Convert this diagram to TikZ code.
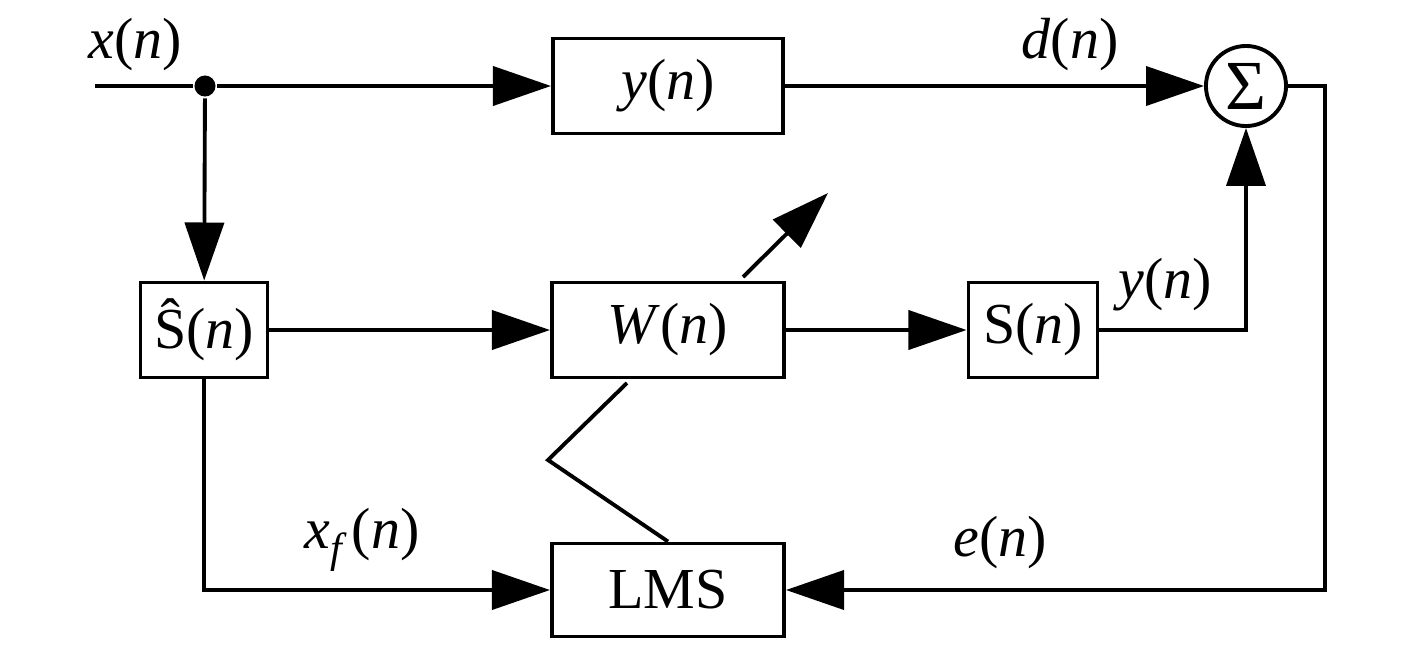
\documentclass[tikz,border=0pt]{standalone}
\usepackage{fontspec}
\setmainfont{Liberation Serif}
\usepackage{tikz}
\usetikzlibrary{arrows.meta}

\tikzset{
  blk/.style={draw,line width=1.1pt,minimum height=0.95cm,inner sep=0pt,
              font=\fontsize{16.5}{19}\selectfont},
  arr/.style={-{Triangle[length=0.58cm,width=0.39cm]}},
  lbl/.style={font=\fontsize{16.5}{19}\selectfont}
}

\begin{document}
\begin{tikzpicture}[x=0.01cm,y=-0.01cm,line width=1.1pt]

\useasboundingbox (0,0) rectangle (1417,645);

% Blocks
\node[blk,minimum width=2.3cm] (yblk) at (668,86) {\textit{y}(\textit{n})};
\node[blk,minimum width=1.27cm] (shat) at (204,330) {\^{S}(\textit{n})};
\node[blk,minimum width=2.32cm] (W) at (668,330) {\textit{W}(\textit{n})};
\node[blk,minimum width=1.29cm] (S) at (1033,330) {S(\textit{n})};
\node[blk,minimum width=2.32cm,minimum height=0.93cm] (LMS) at (668,590) {LMS};
\node[draw,circle,line width=1.1pt,minimum size=0.8cm,inner sep=0pt,
      font=\fontsize{20}{22}\selectfont] (sum) at (1246,86) {Σ};
\node[circle,fill,inner sep=0pt,minimum size=0.21cm] (dot) at (205,86) {};

% Helper points
\coordinate (in) at (95,86);
\coordinate (fb) at (1325,590);
\coordinate (kink) at (548,460);
\coordinate (wtap) at (627,383);
\coordinate (adapt0) at (743,277);
\coordinate (adapt1) at (828,193);

% Signal paths
\draw (in) -- (dot);
\draw[arr] (dot) -- (yblk);
\draw[arr] (yblk) -- (sum);
\draw[arr] (dot) -- (shat);
\draw[arr] (shat) -- (W);
\draw[arr] (W) -- (S);
\draw[arr] (S.east) -| (sum.south);
\draw[arr] (shat.south) |- (LMS.west);
\draw[arr] (sum.east) -| (fb) -- (LMS.east);

% Adaptation
\draw (LMS.north) -- (kink) -- (wtap);
\draw[arr] (adapt0) -- (adapt1);

% Labels
\node[lbl] (xlbl) at (135,45) {\textit{x}(\textit{n})};
\node[lbl] (dlbl) at (1070,45) {\textit{d}(\textit{n})};
\node[lbl] (ylbl) at (1165,285) {\textit{y}(\textit{n})};
\node[lbl] (xflbl) at (362,540) {\textit{x}\raisebox{-0.5ex}{\fontsize{12}{13}\selectfont\itshape f}\,(\textit{n})};
\node[lbl] (elbl) at (1000,543) {\textit{e}(\textit{n})};

\end{tikzpicture}
\end{document}
